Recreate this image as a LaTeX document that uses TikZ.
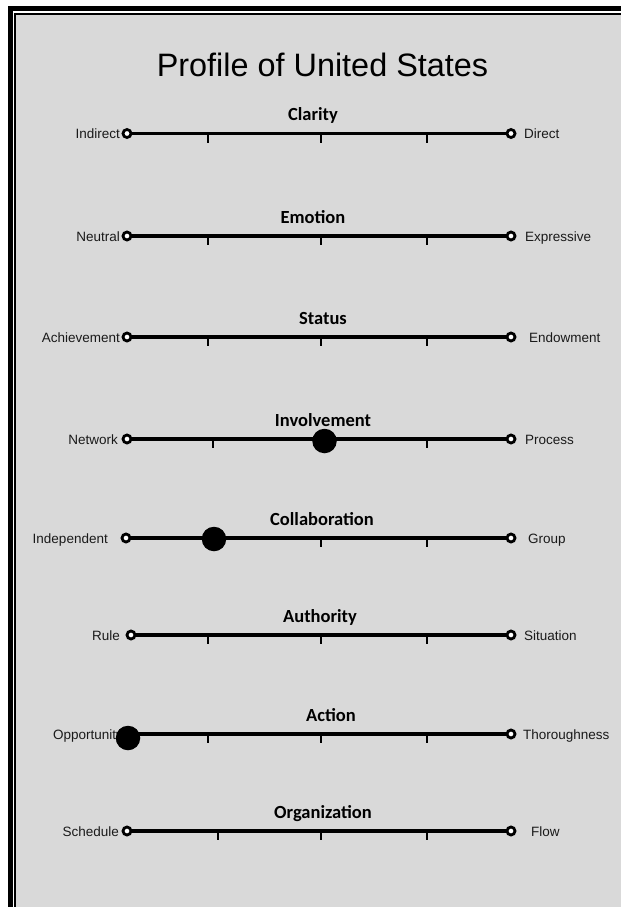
\documentclass[tikz,border=0pt]{standalone}
\usepackage{fontspec}
\setmainfont{Liberation Sans}
\newfontfamily\calibfont{Carlito}
\definecolor{panelgray}{HTML}{D9D9D9}
\definecolor{labelink}{HTML}{1A1A1A}
\tikzset{
  endc/.style={circle, draw=black, fill=white, line width=2.8pt, minimum size=8pt, inner sep=0pt},
  scl/.style={line width=3.5pt},
  tickmark/.style={line width=1.3pt},
  rowtitle/.style={font=\calibfont\bfseries\fontsize{18.5}{20}\selectfont, text=black, inner sep=0pt, anchor=base},
  lab/.style={font=\fontsize{13.5}{15}\selectfont, text=labelink, inner sep=0pt},
  dotn/.style={circle, fill=black, minimum size=24.5pt, inner sep=0pt},
}
\begin{document}
\begin{tikzpicture}[x=1pt,y=-1pt]
\useasboundingbox (0,0) rectangle (621,907);
% frame
\fill[white] (0,0) rectangle (621,907);
\fill[black] (8,6.5) rectangle (621,907);
\fill[white] (12.5,11) rectangle (621,907);
\fill[black] (14,13) rectangle (621,907);
\fill[panelgray] (16,15) rectangle (621,907);
% main title
\node[font=\fontsize{32.4}{36}\selectfont, inner sep=0pt, anchor=base] (maintitle) at (322.5,77) {Profile of United States};
% rows
\foreach \id/\y/\tx/\ttl/\lx/\ll/\le/\rl/\rs/\ka in {
  1/133.5/313/Clarity/127/Indirect/120/Direct/524/208,
  2/236/313/Emotion/127/Neutral/120/Expressive/525/208,
  3/337/323/Status/127/Achievement/120/Endowment/529/208,
  4/439/323/Involvement/127/Network/118/Process/525/213,
  5/538/322/Collaboration/126/Independent/108/Group/528/208,
  6/635/320/Authority/131/Rule/120/Situation/524/208,
  7/734/331/Action/127/Opportunity/123/Thoroughness/523/208,
  8/831/323/Organization/127/Schedule/119/Flow/531/218}{
  \node[rowtitle] (t\id) at (\tx,\y-13) {\ttl};
  \node[endc] (l\id) at (\lx,\y) {};
  \node[endc] (r\id) at (511,\y) {};
  \draw[scl] (l\id) -- (r\id);
  \coordinate (ka\id) at (\ka,\y);
  \coordinate (kb\id) at (321,\y);
  \coordinate (kc\id) at (427,\y);
  \draw[tickmark] (ka\id) -- ++(0,9);
  \draw[tickmark] (kb\id) -- ++(0,9);
  \draw[tickmark] (kc\id) -- ++(0,9);
  \node[lab, anchor=base east] (ll\id) at (\le,\y+5) {\ll};
  \node[lab, anchor=base west] (rl\id) at (\rs,\y+5) {\rl};
}
% profile markers
\node[dotn] (m4) at (324.5,441) {};
\node[dotn] (m5) at (214,539) {};
\node[dotn] (m7) at (128,738) {};
\end{tikzpicture}
\end{document}
